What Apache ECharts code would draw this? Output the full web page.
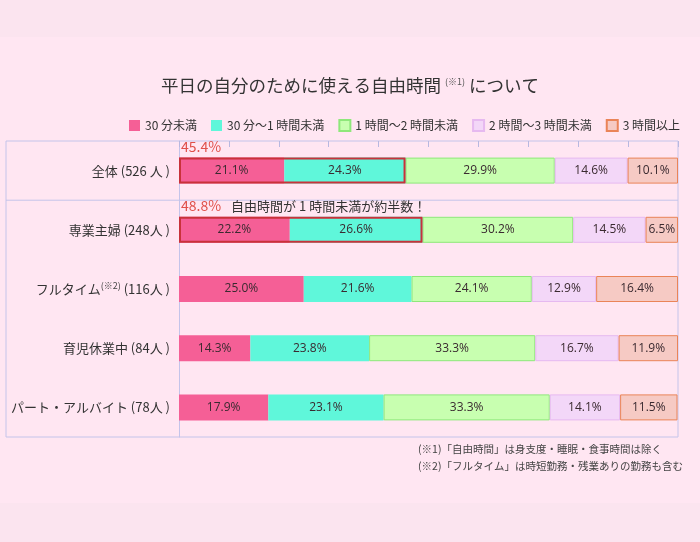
<!DOCTYPE html>
<html><head><meta charset="utf-8">
<script src="https://cdn.jsdelivr.net/npm/echarts@6/dist/echarts.min.js"></script>
<style>
html,body{margin:0;padding:0;}
body{width:700px;height:542px;background:linear-gradient(to bottom,#fbe4ef 0,#fbe4ef 37px,#ffe6f2 37px,#ffe6f2 503px,#fbe4ef 503px);}
#c{width:700px;height:542px;}
</style></head>
<body><div id="c"></div>
<script>
const categories = ['全体 (526 人 )', '専業主婦 (248人 )', 'フルタイム{sup|(※2)} (116人 )', '育児休業中 (84人 )', 'パート・アルバイト (78人 )'];
const seriesNames = ['30 分未満', '30 分～1 時間未満', '1 時間～2 時間未満', '2 時間～3 時間未満', '3 時間以上'];
const lt30 = [21.1, 22.2, 25.0, 14.3, 17.9];
const m30to60 = [24.3, 26.6, 21.6, 23.8, 23.1];
const h1to2 = [29.9, 30.2, 24.1, 33.3, 33.3];
const h2to3 = [14.6, 14.5, 12.9, 16.7, 14.1];
const h3plus = [10.1, 6.5, 16.4, 11.9, 11.5];
const under1h = [45.4, 48.8, null, null, null];
const note = '自由時間が 1 時間未満が約半数！';
const footnotes = ['(※1)「自由時間」は身支度・睡眠・食事時間は除く', '(※2)「フルタイム」は時短勤務・残業ありの勤務も含む'];

const FONT = '"Noto Sans CJK JP", "Noto Sans", sans-serif';
const gridL = 179, gridT = 141, gridW = 499, gridH = 296;
const frameL = 6;
const styles = [
  {color:'#f55f96', borderColor:'#f55f96', borderWidth:0},
  {color:'#5ff7da', borderColor:'#5ff7da', borderWidth:0},
  {color:'#c8ffb0', borderColor:'#8ee87a', borderWidth:1},
  {color:'#f3d7f8', borderColor:'#e6b9f0', borderWidth:1},
  {color:'#f6cac4', borderColor:'#ea8458', borderWidth:1}
];
const dataArr = [lt30, m30to60, h1to2, h2to3, h3plus];

const series = dataArr.map((d, i) => ({
  name: seriesNames[i], type:'bar', stack:'a', barWidth:26, data:d,
  itemStyle: styles[i],
  label:{show:true, position:'inside', formatter: p => p.value.toFixed(1)+'%', color:'#3a2a30', fontSize:12, fontFamily:'"Liberation Sans Narrow", "Open Sans", sans-serif'}
}));
series.push({
  name:'under1h', type:'bar', barWidth:26, barGap:'-100%', data:under1h, z:5,
  itemStyle:{color:'rgba(0,0,0,0)', borderColor:'#c8323a', borderWidth:2},
  label:{show:true, position:[2,-18], formatter: p => p.dataIndex === 1 ? '{a|'+p.value.toFixed(1)+'%}   {b|'+note+'}' : '{a|'+p.value.toFixed(1)+'%}',
    rich:{a:{color:'#e0504a', fontSize:14, fontFamily:FONT}, b:{color:'#333', fontSize:13, fontFamily:FONT}}}
});

const chart = echarts.init(document.getElementById('c'), null, {renderer:'canvas'});
chart.setOption({
  backgroundColor:'transparent',
  animation:false,
  title:{text:'平日の自分のために使える自由時間 {s|(※1)} について', left:'center', top:72,
    textStyle:{fontSize:17.5, fontWeight:'normal', color:'#333', fontFamily:FONT, rich:{s:{fontSize:9, color:'#555', verticalAlign:'top', padding:[0,0,7,0]}}}},
  legend:{data:seriesNames, left:124, top:114, itemWidth:11, itemHeight:11, itemGap:14, icon:'rect',
    textStyle:{fontSize:12, color:'#333', fontFamily:FONT}},
  grid:{left:gridL, top:gridT, width:gridW, height:gridH},
  xAxis:{type:'value', position:'top', min:0, max:100, interval:10,
    axisLine:{show:false}, axisLabel:{show:false}, splitLine:{show:false},
    axisTick:{show:true, inside:true, length:6, lineStyle:{color:'#b8b8e0'}}},
  yAxis:{type:'category', data:categories, inverse:true,
    axisLine:{show:true, lineStyle:{color:'#c4c4ea'}}, axisTick:{show:false},
    axisLabel:{margin:9, fontSize:13, color:'#333', fontFamily:FONT, rich:{sup:{fontSize:9, color:'#444', verticalAlign:'top', padding:[0,0,6,0]}}}},
  series: series
});
const band = gridH / categories.length;
chart.setOption({
  graphic:[
    {type:'rect', shape:{x:frameL, y:gridT, width:gridL+gridW-frameL, height:gridH}, style:{fill:null, stroke:'#c4c4ea', lineWidth:1}, silent:true, z:-1},
    {type:'line', shape:{x1:frameL, y1:gridT+band, x2:gridL+gridW, y2:gridT+band}, style:{stroke:'#c4c4ea', lineWidth:1}, silent:true},
    {type:'text', left:418, top:444, style:{text:footnotes[0], fontSize:10.5, fill:'#444', fontFamily:FONT}},
    {type:'text', left:418, top:461, style:{text:footnotes[1], fontSize:10.5, fill:'#444', fontFamily:FONT}}
  ]
});
</script></body></html>
